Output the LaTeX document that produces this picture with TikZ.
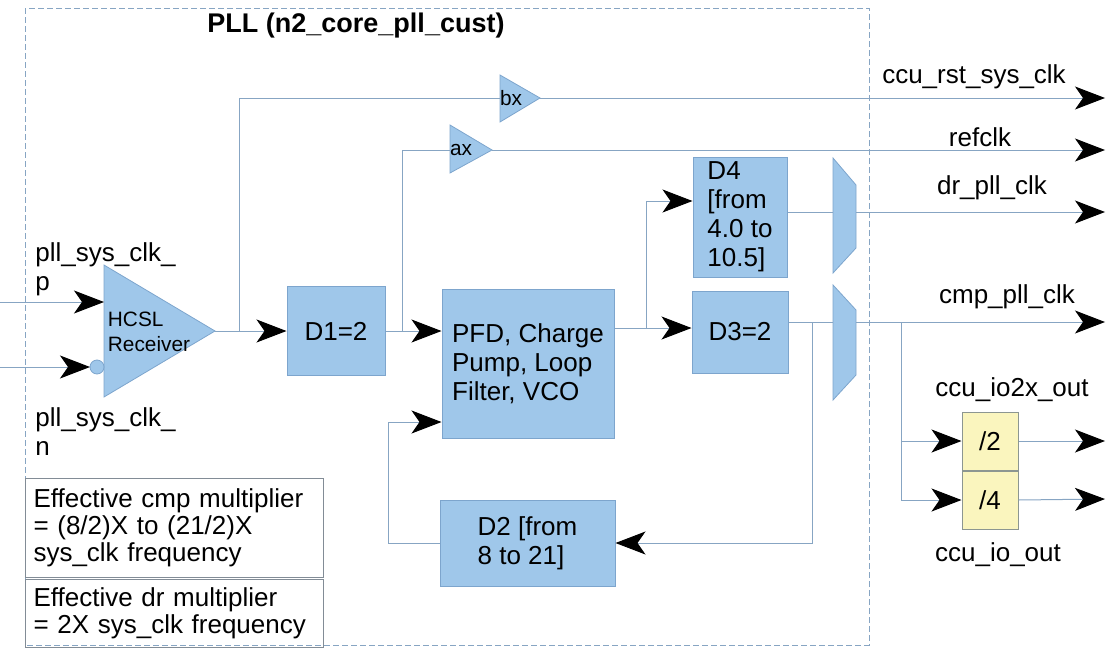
\documentclass[tikz,border=0pt]{standalone}
\usepackage{fontspec}
\setmainfont{Liberation Sans}
\usepackage{tikz}
\usetikzlibrary{arrows.meta, positioning, calc}
\definecolor{pllblue}{RGB}{159,199,234}
\definecolor{plledge}{RGB}{125,165,205}
\definecolor{wire}{RGB}{135,165,195}
\definecolor{divyellow}{RGB}{250,245,190}
\definecolor{divedge}{RGB}{140,150,145}
\definecolor{notedge}{RGB}{130,140,150}
\newcommand{\lblfont}{\fontsize{13}{14.5}\selectfont}
\newcommand{\tinylbl}{\fontsize{10.4}{12.5}\selectfont}
\newcommand{\ttlfont}{\fontsize{13.5}{16}\selectfont\bfseries}
\tikzset{
  blk/.style={rectangle, draw=plledge, fill=pllblue, line width=0.5pt,
    inner sep=0pt, align=center, font=\lblfont},
  divblk/.style={rectangle, draw=divedge, fill=divyellow, line width=0.5pt,
    minimum width=28pt, minimum height=29pt, inner sep=0pt, font=\lblfont},
  buf/.style={draw=plledge, fill=pllblue, line width=0.4pt},
  note/.style={rectangle, draw=notedge, line width=0.5pt, text width=141pt,
    inner xsep=4pt, inner ysep=2pt, align=left,
    font=\fontsize{13}{13.5}\selectfont},
  arrow/.style={-{Stealth[length=15pt, width=11.5pt, inset=4pt, color=black]},
    line width=0.5pt, color=wire},
  line/.style={line width=0.5pt, color=wire},
  sig/.style={font=\lblfont, inner sep=0pt}
}

\begin{document}
\begin{tikzpicture}[x=0.5pt, y=-0.5pt]
  \useasboundingbox (0,0) rectangle (1107,648);

  % PLL boundary and title
  \draw[wire, line width=0.5pt, dash pattern=on 3pt off 1.5pt] (25,8) rectangle (869,645);
  \node[font=\ttlfont] (title) at (356,26) {PLL (n2\_core\_pll\_cust)};

  % HCSL receiver
  \draw[buf] (104,265) -- (215,331) -- (104,397) -- cycle;
  \draw[buf] (97,367) circle (3.5pt);
  \node[font=\tinylbl, align=left, inner sep=0pt] (rx) at (149,332) {HCSL\\Receiver};
  \coordinate (rx_p) at (104,302);
  \coordinate (rx_n) at (90,367);
  \coordinate (rx_out) at (215,331);

  % Input pins
  \coordinate (in_p) at (0,302);
  \coordinate (in_n) at (0,367);
  \node[sig, align=left, anchor=west] (lbl_p) at (35,269) {pll\_sys\_clk\_\\p};
  \node[sig, align=left, anchor=west] (lbl_n) at (35,432) {pll\_sys\_clk\_\\n};

  % Dividers and PFD/VCO
  \node[blk, minimum width=49pt, minimum height=44.5pt] (d1) at (336,331) {D1=2};
  \node[blk, minimum width=86pt, minimum height=74.5pt, align=left] (pfd) at (528,363.5)
    {PFD, Charge\\Pump, Loop\\Filter, VCO};
  \node[blk, minimum width=87.5pt, minimum height=43pt, align=left] (d2) at (527.5,543)
    {D2 [from\\8 to 21]};
  \node[blk, minimum width=47pt, minimum height=60pt, align=left] (d4) at (740,217)
    {D4\\{}[from\\4.0 to\\10.5]};
  \node[blk, minimum width=48pt, minimum height=41pt] (d3) at (740,332) {D3=2};

  % bx / ax buffers
  \draw[buf] (500,75) -- (540,98) -- (500,122) -- cycle;
  \node[font=\tinylbl, inner sep=0pt] (bx) at (511,98) {bx};
  \coordinate (bx_in) at (500,98);
  \coordinate (bx_out) at (540,98);
  \draw[buf] (450,125) -- (492,150) -- (450,173) -- cycle;
  \node[font=\tinylbl, inner sep=0pt] (ax) at (461,150) {ax};
  \coordinate (ax_in) at (450,150);
  \coordinate (ax_out) at (492,150);

  % Output muxes
  \draw[buf] (833,158) -- (856,185) -- (856,248) -- (833,273) -- cycle;
  \draw[buf] (833,285) -- (856,310) -- (856,375) -- (833,400) -- cycle;
  \coordinate (mux_dr_in) at (833,212);
  \coordinate (mux_dr_out) at (856,212);
  \coordinate (mux_cmp_in) at (833,322);
  \coordinate (mux_cmp_out) at (856,322);

  % IO dividers
  \node[divblk] (div2) at (990,441) {/2};
  \node[divblk, below=0pt of div2] (div4) {/4};

  % Notes
  \node[note, anchor=north west, minimum height=49.5pt] (note_cmp) at (25,478)
    {Effective cmp multiplier\\= (8/2)X to (21/2)X\\sys\_clk frequency};
  \node[note, anchor=north west, minimum height=34pt] (note_dr)
    at ([yshift=-0.6pt]note_cmp.south west)
    {Effective dr multiplier\\= 2X sys\_clk frequency};

  % Output labels and pins
  \node[sig] (lbl_rst) at (974,77) {ccu\_rst\_sys\_clk};
  \node[sig] (lbl_ref) at (980,137) {refclk};
  \node[sig] (lbl_dr) at (992,188) {dr\_pll\_clk};
  \node[sig] (lbl_cmp) at (1007,297) {cmp\_pll\_clk};
  \node[sig] (lbl_io2x) at (1012,390) {ccu\_io2x\_out};
  \node[sig] (lbl_io) at (998,555) {ccu\_io\_out};
  \coordinate (out_rst) at (1105,98);
  \coordinate (out_ref) at (1105,150);
  \coordinate (out_dr) at (1105,212);
  \coordinate (out_cmp) at (1105,322);
  \coordinate (out_io2x) at (1105,441);
  \coordinate (out_io) at (1105,499);

  % Connections
  % receiver inputs
  \draw[arrow] (in_p) -- (rx_p);
  \draw[arrow] (in_n) -- (rx_n);
  % receiver to D1, tap to bx
  \draw[arrow] (rx_out) -- (d1.west);
  \coordinate (tap_bx) at (239,331);
  \draw[line] (tap_bx) |- (bx_in);
  \draw[arrow] (bx_out) -- (out_rst);
  % D1 to PFD, tap to ax
  \draw[arrow] (d1.east) -- (pfd.west |- d1.east);
  \coordinate (tap_ax) at (402,331);
  \draw[line] (tap_ax) |- (ax_in);
  \draw[arrow] (ax_out) -- (out_ref);
  % PFD to D3 and D4
  \coordinate (tap_d4) at (646,328);
  \draw[arrow] (pfd.east |- tap_d4) -- (d3.west |- tap_d4);
  \draw[arrow] (tap_d4) |- (d4.west |- 0,201);
  % through the muxes
  \draw[line] (d4.east |- mux_dr_in) -- (mux_dr_in);
  \draw[arrow] (mux_dr_out) -- (out_dr);
  \draw[line] (d3.east |- mux_cmp_in) -- (mux_cmp_in);
  \draw[arrow] (mux_cmp_out) -- (out_cmp);
  % feedback through D2
  \coordinate (tap_fb) at (812,322);
  \draw[arrow] (tap_fb) |- (d2.east);
  \coordinate (fb_in) at (388,422);
  \draw[arrow] (d2.west) -| (fb_in) -- (pfd.west |- fb_in);
  % IO dividers
  \coordinate (tap_io) at (901,322);
  \draw[arrow] (tap_io) |- (div2.west);
  \draw[arrow] (tap_io) |- (div4.west);
  \draw[arrow] (div2.east) -- (out_io2x);
  \draw[arrow] (div4.east) -- (out_io);
\end{tikzpicture}
\end{document}
